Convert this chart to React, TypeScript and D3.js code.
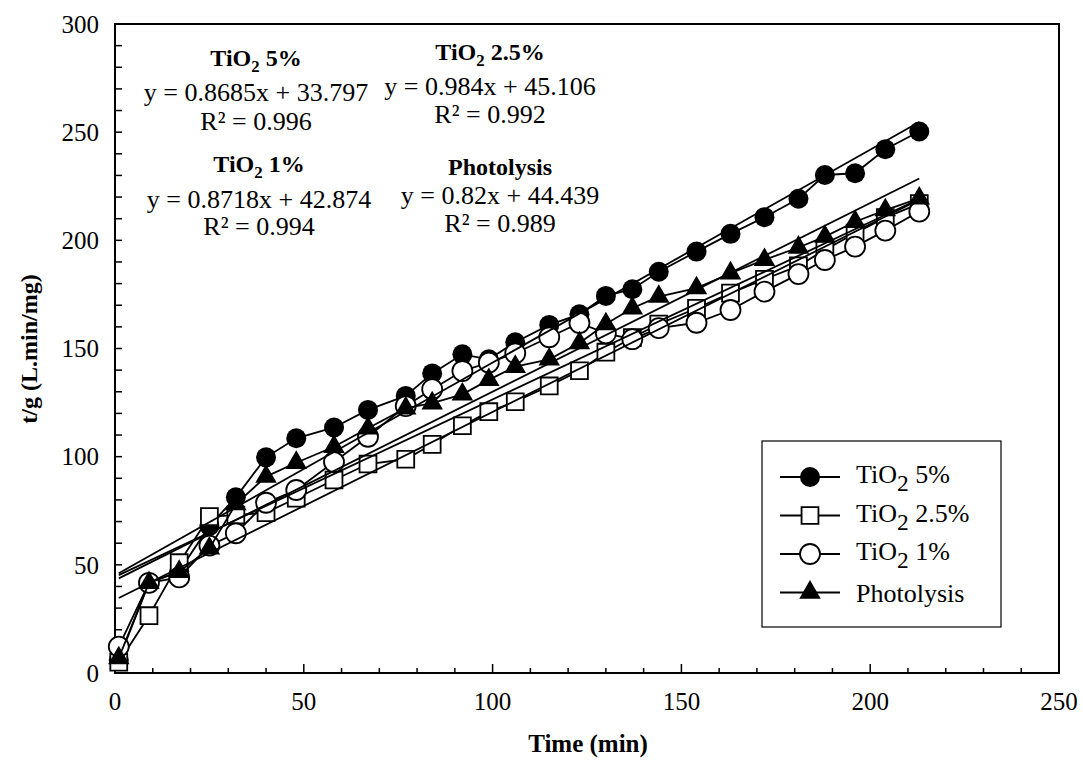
import React from 'react';
import * as d3 from 'd3';

// sampling times (min)
const times = [1, 9, 17, 25, 32, 40, 48, 58, 67, 77, 84, 92, 99, 106, 115, 123, 130, 137, 144, 154, 163, 172, 181, 188, 196, 204, 213];

// t/g values per series
const tio2_5 = [6, 41.7, 47, 68, 81.2, 99.7, 108.5, 113.5, 121.6, 128.1, 138.5, 147.3, 145, 152.9, 160.9, 165.8, 174.3, 177.4, 185.5, 194.8, 203, 210.7, 219.2, 230.2, 231, 242.1, 250.3];
const tio2_25 = [5, 26.5, 51, 72.3, 73, 74.1, 80.8, 89.2, 96.6, 98.8, 105.7, 114.3, 120.8, 125.4, 132.7, 139.7, 148.3, 155, 161.3, 168.6, 175.6, 182, 188.2, 195.6, 203.3, 210.5, 217];
const tio2_1 = [12.2, 41.7, 44.2, 58.9, 64.6, 78.7, 84.6, 97.5, 109.2, 123.4, 131.2, 139.6, 143.5, 147.8, 155.2, 161.8, 157, 154.3, 159.4, 161.9, 167.8, 176.3, 184.4, 190.9, 197.1, 204.5, 213.3];
const photolysis = [6.9, 41.7, 46.8, 57.6, 78.1, 90.8, 97.2, 104.6, 113.1, 122.4, 124.7, 128.8, 135.5, 141.6, 145, 152.5, 161.3, 168.6, 174, 177.9, 184.8, 191, 196.7, 201.7, 208.6, 214, 219.4];

// linear trendlines
const fitSlopes = [0.8685, 0.984, 0.8718, 0.82];
const fitIntercepts = [33.797, 45.106, 42.874, 44.439];

// annotations
const annoNames = ['5%', '2.5%', '1%', 'Photolysis'];
const annoEq = ['y = 0.8685x + 33.797', 'y = 0.984x + 45.106', 'y = 0.8718x + 42.874', 'y = 0.82x + 44.439'];
const annoR2 = ['R² = 0.996', 'R² = 0.992', 'R² = 0.994', 'R² = 0.989'];

const legendNames = ['5%', '2.5%', '1%', 'Photolysis'];

const xTicks = [0, 50, 100, 150, 200, 250];
const yTicks = [0, 50, 100, 150, 200, 250, 300];

const W = 1083, H = 765;
const left = 115, right = 1059, top = 24, bottom = 673;
const font = '"Liberation Serif", "Times New Roman", serif';

const series = [
  { values: tio2_5, kind: 'filledCircle' },
  { values: tio2_25, kind: 'square' },
  { values: tio2_1, kind: 'openCircle' },
  { values: photolysis, kind: 'triangle' },
];

function Marker({ kind, x, y }: { kind: string; x: number; y: number }) {
  if (kind === 'filledCircle') return <circle cx={x} cy={y} r={10} fill="#000" />;
  if (kind === 'openCircle') return <circle cx={x} cy={y} r={10} fill="#fff" stroke="#000" strokeWidth={1.8} />;
  if (kind === 'square')
    return <path d={d3.symbol().type(d3.symbolSquare).size(285)()!} transform={`translate(${x},${y})`} fill="#fff" stroke="#000" strokeWidth={1.8} />;
  return <path d={d3.symbol().type(d3.symbolTriangle).size(200)()!} transform={`translate(${x},${y})`} fill="#000" />;
}

function TiO2({ x, y, rest, size, bold, shift }: any) {
  return (
    <text x={x} y={y} textAnchor={bold ? 'middle' : 'start'} fontFamily={font} fontSize={size} fontWeight={bold ? 'bold' : 'normal'}>
      TiO<tspan fontSize={size * (bold ? 0.7 : 0.9)} dy={shift}>2</tspan>
      <tspan dy={-shift}>{' ' + rest}</tspan>
    </text>
  );
}

export default function App() {
  const x = d3.scaleLinear().domain([0, 250]).range([left, right]);
  const y = d3.scaleLinear().domain([0, 300]).range([bottom, top]);
  const line = d3.line<number>().x((_, i) => x(times[i])).y((d) => y(d));

  const x0 = times[0], x1 = times[times.length - 1];
  const minorX = d3.range(0, 251, 10);
  const minorY = d3.range(0, 301, 10);

  // annotation anchor points (value space centers)
  const annoPos = [
    { cx: 256, ty: 66, ey: 101, ry: 130 },
    { cx: 490, ty: 60, ey: 95, ry: 123 },
    { cx: 259, ty: 172, ey: 208, ry: 235 },
    { cx: 500, ty: 175, ey: 204, ry: 232 },
  ];

  const legX = 762, legY = 441, legW = 239, legH = 186;

  return (
    <div style={{ position: 'absolute', left: 0, top: 0 }}>
      <svg width={W} height={H} style={{ display: 'block', background: '#fff' }}>
        {/* frame */}
        <rect x={left} y={top} width={right - left} height={bottom - top} fill="none" stroke="#000" strokeWidth={2} />
        {minorY.map((v) => (
          <line key={'yt' + v} x1={left} x2={left + 7} y1={y(v)} y2={y(v)} stroke="#000" strokeWidth={1.5} />
        ))}
        {minorX.map((v) => (
          <line key={'xt' + v} x1={x(v)} x2={x(v)} y1={bottom} y2={bottom - (v % 50 === 0 ? 9 : 5)} stroke="#000" strokeWidth={1.5} />
        ))}
        {yTicks.map((v) => (
          <text key={'yl' + v} x={left - 16} y={y(v)} dy="0.35em" textAnchor="end" fontFamily={font} fontSize={25}>{v}</text>
        ))}
        {xTicks.map((v) => (
          <text key={'xl' + v} x={x(v)} y={710} textAnchor="middle" fontFamily={font} fontSize={25}>{v}</text>
        ))}
        <text x={588} y={752} textAnchor="middle" fontFamily={font} fontSize={25} fontWeight="bold">Time (min)</text>
        <text transform="translate(29,349) rotate(-90)" textAnchor="middle" dominantBaseline="central" fontFamily={font} fontSize={24} fontWeight="bold">t/g (L.min/mg)</text>

        {/* series */}
        {series.map((s, si) => (
          <g key={'s' + si}>
            <path d={line(s.values)!} fill="none" stroke="#000" strokeWidth={1.8} />
            {s.values.map((v, i) => (
              <Marker key={i} kind={s.kind} x={x(times[i])} y={y(v)} />
            ))}
          </g>
        ))}

        {/* trendlines */}
        {fitSlopes.map((m, i) => (
          <line key={'f' + i} x1={x(x0)} y1={y(m * x0 + fitIntercepts[i])} x2={x(x1)} y2={y(m * x1 + fitIntercepts[i])} stroke="#000" strokeWidth={1.8} />
        ))}

        {/* equation annotations */}
        {annoPos.map((p, i) => (
          <g key={'a' + i}>
            {annoNames[i] === 'Photolysis' ? (
              <text x={p.cx} y={p.ty} textAnchor="middle" fontFamily={font} fontSize={24} fontWeight="bold">Photolysis</text>
            ) : (
              <TiO2 x={p.cx} y={p.ty} rest={annoNames[i]} size={24} bold shift={6} />
            )}
            <text x={p.cx} y={p.ey} textAnchor="middle" fontFamily={font} fontSize={26}>{annoEq[i]}</text>
            <text x={p.cx} y={p.ry} textAnchor="middle" fontFamily={font} fontSize={26}>{annoR2[i]}</text>
          </g>
        ))}

        {/* legend */}
        <rect x={legX} y={legY} width={legW} height={legH} fill="#fff" stroke="#000" strokeWidth={1.2} />
        {legendNames.map((n, i) => {
          const cy = 477 + i * 38.5;
          return (
            <g key={'l' + i}>
              <line x1={780} x2={840} y1={cy} y2={cy} stroke="#000" strokeWidth={1.8} />
              <Marker kind={series[i].kind} x={810} y={cy} />
              {n === 'Photolysis' ? (
                <text x={856} y={cy + 9} fontFamily={font} fontSize={26}>Photolysis</text>
              ) : (
                <TiO2 x={856} y={cy + 6} rest={n} size={26} shift={8} />
              )}
            </g>
          );
        })}
      </svg>
    </div>
  );
}
